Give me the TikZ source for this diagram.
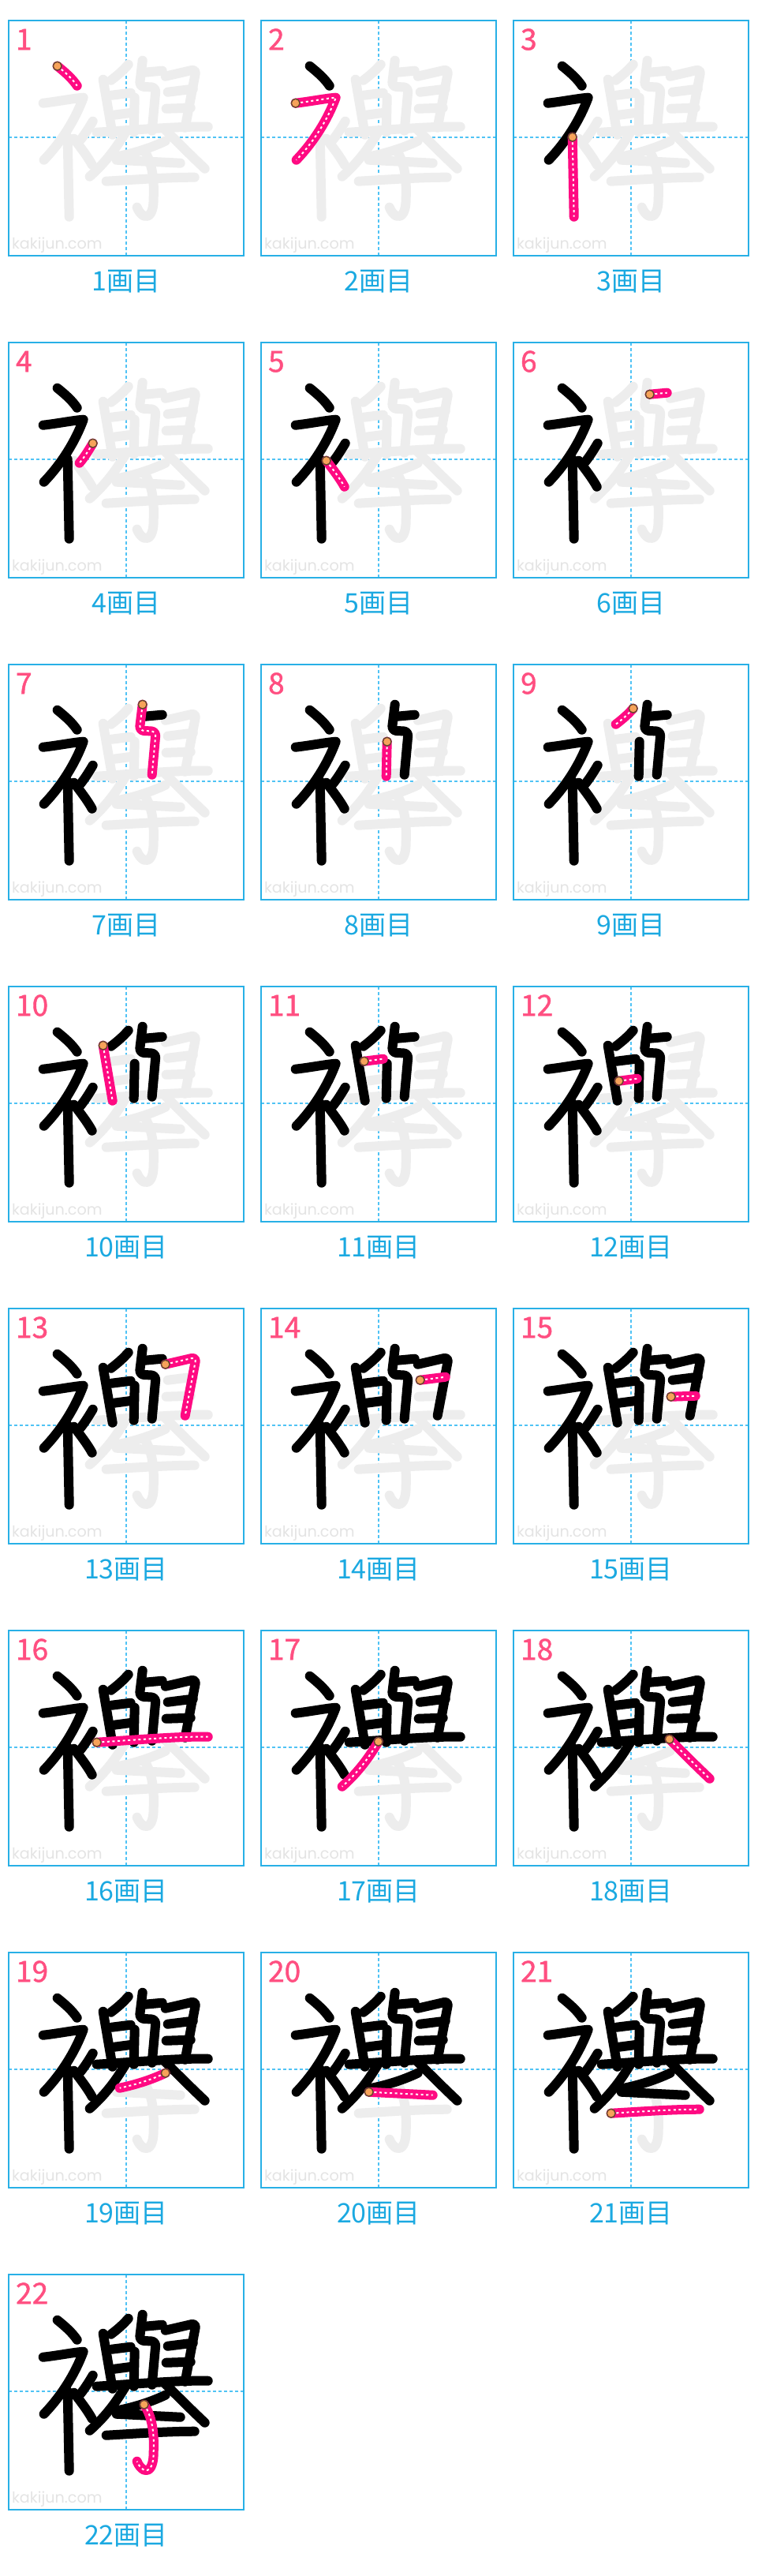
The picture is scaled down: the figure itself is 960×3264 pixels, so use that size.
\documentclass[tikz,border=0pt]{standalone}
\usepackage{fontspec}
\newfontfamily\jpfont{Noto Sans CJK JP}
\newfontfamily\numfont[FakeBold=1.2]{Noto Sans CJK JP}
\newfontfamily\wmfont{Poppins}
\definecolor{boxcol}{RGB}{40,176,230}
\definecolor{guidecol}{RGB}{80,195,245}
\definecolor{labcol}{RGB}{27,169,225}
\definecolor{numcol}{RGB}{255,79,129}
\definecolor{pinkcol}{RGB}{255,10,130}
\definecolor{ghostcol}{RGB}{237,237,237}
\definecolor{dotfill}{RGB}{247,162,90}
\definecolor{dotline}{RGB}{100,70,45}
\definecolor{wmcol}{RGB}{228,228,228}
\newcommand\defstroke[3]{\expandafter\def\csname stk#1\endcsname{#2 #3}\expandafter\def\csname sts#1\endcsname{#2}}
\newcommand\drawstk[2]{\expandafter\drawstkaux\csname stk#2\endcsname{#1}}
\newcommand\drawstkaux[2]{\draw[#2] #1;}
\newcommand\drawdot[1]{\expandafter\drawdotaux\csname sts#1\endcsname}
\newcommand\drawdotaux[1]{\filldraw[dotst] #1 circle[radius=2.7pt];}
\defstroke{1}{(62,58)}{.. controls (72,66) and (81,74) .. (87,83)}
\defstroke{2}{(44,105)}{.. controls (62,103) and (82,99) .. (95,98) .. controls (85,125) and (68,153) .. (45,177)}
\defstroke{3}{(75,148)}{-- (77,249)}
\defstroke{4}{(107,128)}{.. controls (101,138) and (96,146) .. (90,153)}
\defstroke{5}{(83,150)}{.. controls (92,162) and (100,172) .. (106,183)}
\defstroke{6}{(173,66)}{-- (195,64)}
\defstroke{7}{(170,51)}{[rounded corners=3pt] -- (166,84) -- (187,85) -- (182,140)}
\defstroke{8}{(160,98)}{-- (159,142)}
\defstroke{9}{(152,56)}{.. controls (145,64) and (138,70) .. (130,76)}
\defstroke{10}{(120,75)}{-- (132,145)}
\defstroke{11}{(131,95)}{-- (155,92)}
\defstroke{12}{(134,120)}{-- (157,117)}
\defstroke{13}{(199,71)}{[rounded corners=3pt] -- (238,62) -- (224,136)}
\defstroke{14}{(202,91)}{-- (234,87)}
\defstroke{15}{(200,112)}{-- (231,111)}
\defstroke{16}{(112,142)}{.. controls (160,139) and (220,134) .. (253,135)}
\defstroke{17}{(149,141)}{.. controls (135,165) and (120,183) .. (103,198)}
\defstroke{18}{(198,138)}{.. controls (215,155) and (232,172) .. (249,188)}
\defstroke{19}{(199,153)}{.. controls (180,162) and (160,168) .. (141,172)}
\defstroke{20}{(137,177)}{-- (218,181)}
\defstroke{21}{(124,204)}{.. controls (160,202) and (200,199) .. (236,199)}
\defstroke{22}{(172,165)}{.. controls (182,180) and (185,200) .. (184,225) .. controls (184,245) and (178,250) .. (172,248) .. controls (168,246) and (165,242) .. (163,237)}
\begin{document}
\begin{tikzpicture}[x=0.5pt,y=-0.5pt,
  boxst/.style={draw=boxcol,line width=1pt},
  guide/.style={guidecol,line width=0.85pt,dash pattern=on 2pt off 1.5pt},
  ghoststk/.style={ghostcol,line width=6pt,line cap=round,line join=round},
  blackstk/.style={black,line width=6pt,line cap=round,line join=round},
  pinkstk/.style={pinkcol,line width=6pt,line cap=round,line join=round},
  pinkdash/.style={white,line width=1pt,dash pattern=on 1.5pt off 1.8pt},
  dotst/.style={fill=dotfill,draw=dotline,line width=0.7pt},
  numst/.style={font=\numfont\fontsize{18.5}{19}\selectfont,text=numcol,inner sep=0pt,anchor=base west},
  labst/.style={font=\jpfont\fontsize{17}{18}\selectfont,text=labcol,inner sep=0pt},
  wmst/.style={font=\wmfont\fontsize{9.6}{10}\selectfont,text=wmcol,inner sep=0pt,anchor=base west}]
\useasboundingbox (0,0) rectangle (960,3264);
\fill[white] (0,0) rectangle (960,3264);
\foreach \i in {1,...,22} {
  \pgfmathtruncatemacro\col{mod(\i-1,3)}
  \pgfmathtruncatemacro\row{div(\i-1,3)}
  \pgfmathtruncatemacro\prev{\i-1}
  \pgfmathsetmacro\bx{10.7+320*\col}
  \pgfmathsetmacro\by{25.7+408*\row}
  \begin{scope}[shift={(\bx,\by)}]
    \draw[guide] (149.2,0) -- (149.2,298.3);
    \draw[guide] (0,148.5) -- (298.3,148.5);
    \node[wmst] (wm\i) at (4,290) {kakijun.com};
    \foreach \j in {1,...,22} {\drawstk{ghoststk}{\j}}
    \ifnum\i>1
      \foreach \j in {1,...,\prev} {\drawstk{blackstk}{\j}}
    \fi
    \drawstk{pinkstk}{\i}
    \drawstk{pinkdash}{\i}
    \drawdot{\i}
    \draw[boxst] (0,0) rectangle (298.3,298.3);
    \node[numst] (num\i) at (9,37.5) {\i};
    \node[labst] (lab\i) at (149.2,331) {\i 画目};
  \end{scope}
}
\end{tikzpicture}
\end{document}
